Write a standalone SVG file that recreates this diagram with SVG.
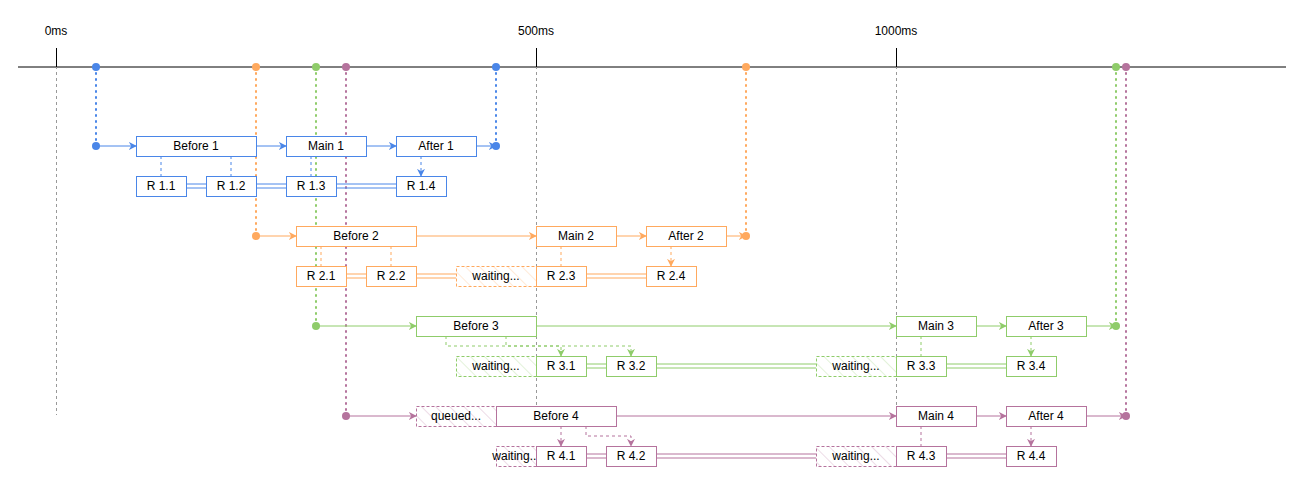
<svg xmlns="http://www.w3.org/2000/svg" width="1304" height="490" viewBox="0 0 1304 490">
<style>
text{font-family:"Liberation Sans",Arial,sans-serif;font-size:12px;text-anchor:middle;dominant-baseline:central;fill:#000}
.b{stroke:#4a86e8}.o{stroke:#ffa95e}.g{stroke:#8fcc6a}.p{stroke:#b5739d}
rect{fill:#fff;stroke-width:1}
.w{stroke-dasharray:3 2}
.c{fill:none;stroke-width:1}
.d{stroke-dasharray:3 3}
.dot{stroke-dasharray:1 5;stroke-width:2;stroke-linecap:round}
.grid{stroke:#999;stroke-dasharray:3 3;fill:none}
</style>
<defs>
<pattern id="hb" width="12" height="12" patternUnits="userSpaceOnUse" patternTransform="rotate(45)"><rect width="12" height="12" fill="#fff" stroke="none"/></pattern>
<pattern id="ho" width="10" height="10" patternUnits="userSpaceOnUse" patternTransform="rotate(-45)"><rect width="10" height="10" fill="#fff" style="stroke:none"/><line x1="0" y1="0" x2="0" y2="10" stroke="#ffa95e" stroke-opacity="0.5"/></pattern>
<pattern id="hg" width="10" height="10" patternUnits="userSpaceOnUse" patternTransform="rotate(-45)"><rect width="10" height="10" fill="#fff" style="stroke:none"/><line x1="0" y1="0" x2="0" y2="10" stroke="#8fcc6a" stroke-opacity="0.5"/></pattern>
<pattern id="hp" width="10" height="10" patternUnits="userSpaceOnUse" patternTransform="rotate(-45)"><rect width="10" height="10" fill="#fff" style="stroke:none"/><line x1="0" y1="0" x2="0" y2="10" stroke="#b5739d" stroke-opacity="0.5"/></pattern>
<marker id="ab" viewBox="0 0 10 10" refX="9" refY="5" markerWidth="8" markerHeight="8" orient="auto" markerUnits="userSpaceOnUse"><path d="M0,0L10,5L0,10L3,5Z" fill="#4a86e8"/></marker>
<marker id="ao" viewBox="0 0 10 10" refX="9" refY="5" markerWidth="8" markerHeight="8" orient="auto" markerUnits="userSpaceOnUse"><path d="M0,0L10,5L0,10L3,5Z" fill="#ffa95e"/></marker>
<marker id="ag" viewBox="0 0 10 10" refX="9" refY="5" markerWidth="8" markerHeight="8" orient="auto" markerUnits="userSpaceOnUse"><path d="M0,0L10,5L0,10L3,5Z" fill="#8fcc6a"/></marker>
<marker id="ap" viewBox="0 0 10 10" refX="9" refY="5" markerWidth="8" markerHeight="8" orient="auto" markerUnits="userSpaceOnUse"><path d="M0,0L10,5L0,10L3,5Z" fill="#b5739d"/></marker>
</defs>
<rect width="1304" height="490" fill="#fff" style="stroke:none"/>
<g id="axis">
<line x1="18" y1="67" x2="1286" y2="67" stroke="#000"/>
<path class="grid" d="M56.5,48V415M536.5,48V415M896.5,48V415"/>
<line x1="56.5" y1="48" x2="56.5" y2="67" stroke="#000"/>
<line x1="536.5" y1="48" x2="536.5" y2="67" stroke="#000"/>
<line x1="896.5" y1="48" x2="896.5" y2="67" stroke="#000"/>
<text x="56" y="31">0ms</text><text x="536" y="31">500ms</text><text x="896" y="31">1000ms</text>
</g>
<g id="connectors">
<!-- dotted verticals -->
<path class="c dot b" d="M96,67V146M496,67V146"/>
<path class="c dot o" d="M256,67V236M746,67V236"/>
<path class="c dot g" d="M316,67V326M1116,67V326"/>
<path class="c dot p" d="M346,67V416M1126,67V416"/>
<!-- blue -->
<path class="c b" marker-end="url(#ab)" d="M96,146H136"/>
<path class="c b" marker-end="url(#ab)" d="M256,146H286"/>
<path class="c b" marker-end="url(#ab)" d="M366,146H396"/>
<path class="c b" marker-end="url(#ab)" d="M476,146H496"/>
<path class="c b d" marker-end="url(#ab)" d="M161,156V176M231,156V176M311,156V176M421,156V176"/>
<path class="c b" d="M186,184H206M186,188H206M256,184H286M256,188H286M336,184H396M336,188H396"/>
<!-- orange -->
<path class="c o" marker-end="url(#ao)" d="M256,236H296"/>
<path class="c o" marker-end="url(#ao)" d="M416,236H536"/>
<path class="c o" marker-end="url(#ao)" d="M616,236H646"/>
<path class="c o" marker-end="url(#ao)" d="M726,236H746"/>
<path class="c o d" marker-end="url(#ao)" d="M321,246V266M391,246V266M561,246V266M671,246V266"/>
<path class="c o" d="M346,274H366M346,278H366M416,274H456M416,278H456M586,274H646M586,278H646"/>
<!-- green -->
<path class="c g" marker-end="url(#ag)" d="M316,326H416"/>
<path class="c g" marker-end="url(#ag)" d="M536,326H896"/>
<path class="c g" marker-end="url(#ag)" d="M976,326H1006"/>
<path class="c g" marker-end="url(#ag)" d="M1086,326H1116"/>
<path class="c g d" marker-end="url(#ag)" d="M446,336V346H561V356"/>
<path class="c g d" marker-end="url(#ag)" d="M506,336V346H631V356"/>
<path class="c g d" marker-end="url(#ag)" d="M921,336V356M1031,336V356"/>
<path class="c g" d="M586,364H606M586,368H606M656,364H816M656,368H816M946,364H1006M946,368H1006"/>
<!-- purple -->
<path class="c p" marker-end="url(#ap)" d="M346,416H416"/>
<path class="c p" marker-end="url(#ap)" d="M616,416H896"/>
<path class="c p" marker-end="url(#ap)" d="M976,416H1006"/>
<path class="c p" marker-end="url(#ap)" d="M1086,416H1126"/>
<path class="c p d" marker-end="url(#ap)" d="M561,426V446"/>
<path class="c p d" marker-end="url(#ap)" d="M586,426V436H631V446"/>
<path class="c p d" marker-end="url(#ap)" d="M921,426V446M1031,426V446"/>
<path class="c p" d="M586,454H606M586,458H606M656,454H816M656,458H816M946,454H1006M946,458H1006"/>
</g>
<g id="dots">
<circle cx="96" cy="67" r="4" fill="#4a86e8"/><circle cx="96" cy="146" r="4" fill="#4a86e8"/><circle cx="496" cy="67" r="4" fill="#4a86e8"/><circle cx="496" cy="146" r="4" fill="#4a86e8"/>
<circle cx="256" cy="67" r="4" fill="#ffa95e"/><circle cx="256" cy="236" r="4" fill="#ffa95e"/><circle cx="746" cy="67" r="4" fill="#ffa95e"/><circle cx="746" cy="236" r="4" fill="#ffa95e"/>
<circle cx="316" cy="67" r="4" fill="#8fcc6a"/><circle cx="316" cy="326" r="4" fill="#8fcc6a"/><circle cx="1116" cy="67" r="4" fill="#8fcc6a"/><circle cx="1116" cy="326" r="4" fill="#8fcc6a"/>
<circle cx="346" cy="67" r="4" fill="#b5739d"/><circle cx="346" cy="416" r="4" fill="#b5739d"/><circle cx="1126" cy="67" r="4" fill="#b5739d"/><circle cx="1126" cy="416" r="4" fill="#b5739d"/>
</g>
<g id="before1"><rect class="b" x="136.5" y="136.5" width="120" height="20"/><text x="196" y="146">Before 1</text></g>
<g id="main1"><rect class="b" x="286.5" y="136.5" width="80" height="20"/><text x="326" y="146">Main 1</text></g>
<g id="after1"><rect class="b" x="396.5" y="136.5" width="80" height="20"/><text x="436" y="146">After 1</text></g>
<g id="r11"><rect class="b" x="136.5" y="176.5" width="50" height="20"/><text x="161" y="186">R 1.1</text></g>
<g id="r12"><rect class="b" x="206.5" y="176.5" width="50" height="20"/><text x="231" y="186">R 1.2</text></g>
<g id="r13"><rect class="b" x="286.5" y="176.5" width="50" height="20"/><text x="311" y="186">R 1.3</text></g>
<g id="r14"><rect class="b" x="396.5" y="176.5" width="50" height="20"/><text x="421" y="186">R 1.4</text></g>

<g id="before2"><rect class="o" x="296.5" y="226.5" width="120" height="20"/><text x="356" y="236">Before 2</text></g>
<g id="main2"><rect class="o" x="536.5" y="226.5" width="80" height="20"/><text x="576" y="236">Main 2</text></g>
<g id="after2"><rect class="o" x="646.5" y="226.5" width="80" height="20"/><text x="686" y="236">After 2</text></g>
<g id="r21"><rect class="o" x="296.5" y="266.5" width="50" height="20"/><text x="321" y="276">R 2.1</text></g>
<g id="r22"><rect class="o" x="366.5" y="266.5" width="50" height="20"/><text x="391" y="276">R 2.2</text></g>
<g id="w2"><rect class="o w" x="456.5" y="266.5" width="80" height="20" fill="url(#ho)" style="fill:url(#ho)"/><text x="496" y="276">waiting...</text></g>
<g id="r23"><rect class="o" x="536.5" y="266.5" width="50" height="20"/><text x="561" y="276">R 2.3</text></g>
<g id="r24"><rect class="o" x="646.5" y="266.5" width="50" height="20"/><text x="671" y="276">R 2.4</text></g>

<g id="before3"><rect class="g" x="416.5" y="316.5" width="120" height="20"/><text x="476" y="326">Before 3</text></g>
<g id="main3"><rect class="g" x="896.5" y="316.5" width="80" height="20"/><text x="936" y="326">Main 3</text></g>
<g id="after3"><rect class="g" x="1006.5" y="316.5" width="80" height="20"/><text x="1046" y="326">After 3</text></g>
<g id="w31"><rect class="g w" x="456.5" y="356.5" width="80" height="20" style="fill:url(#hg)"/><text x="496" y="366">waiting...</text></g>
<g id="r31"><rect class="g" x="536.5" y="356.5" width="50" height="20"/><text x="561" y="366">R 3.1</text></g>
<g id="r32"><rect class="g" x="606.5" y="356.5" width="50" height="20"/><text x="631" y="366">R 3.2</text></g>
<g id="w32"><rect class="g w" x="816.5" y="356.5" width="80" height="20" style="fill:url(#hg)"/><text x="856" y="366">waiting...</text></g>
<g id="r33"><rect class="g" x="896.5" y="356.5" width="50" height="20"/><text x="921" y="366">R 3.3</text></g>
<g id="r34"><rect class="g" x="1006.5" y="356.5" width="50" height="20"/><text x="1031" y="366">R 3.4</text></g>

<g id="queued4"><rect class="p w" x="416.5" y="406.5" width="80" height="20" style="fill:url(#hp)"/><text x="456" y="416">queued...</text></g>
<g id="before4"><rect class="p" x="496.5" y="406.5" width="120" height="20"/><text x="556" y="416">Before 4</text></g>
<g id="main4"><rect class="p" x="896.5" y="406.5" width="80" height="20"/><text x="936" y="416">Main 4</text></g>
<g id="after4"><rect class="p" x="1006.5" y="406.5" width="80" height="20"/><text x="1046" y="416">After 4</text></g>
<g id="w41"><rect class="p w" x="496.5" y="446.5" width="40" height="20" style="fill:url(#hp)"/><text x="516" y="456">waiting...</text></g>
<g id="r41"><rect class="p" x="536.5" y="446.5" width="50" height="20"/><text x="561" y="456">R 4.1</text></g>
<g id="r42"><rect class="p" x="606.5" y="446.5" width="50" height="20"/><text x="631" y="456">R 4.2</text></g>
<g id="w42"><rect class="p w" x="816.5" y="446.5" width="80" height="20" style="fill:url(#hp)"/><text x="856" y="456">waiting...</text></g>
<g id="r43"><rect class="p" x="896.5" y="446.5" width="50" height="20"/><text x="921" y="456">R 4.3</text></g>
<g id="r44"><rect class="p" x="1006.5" y="446.5" width="50" height="20"/><text x="1031" y="456">R 4.4</text></g>
</svg>
